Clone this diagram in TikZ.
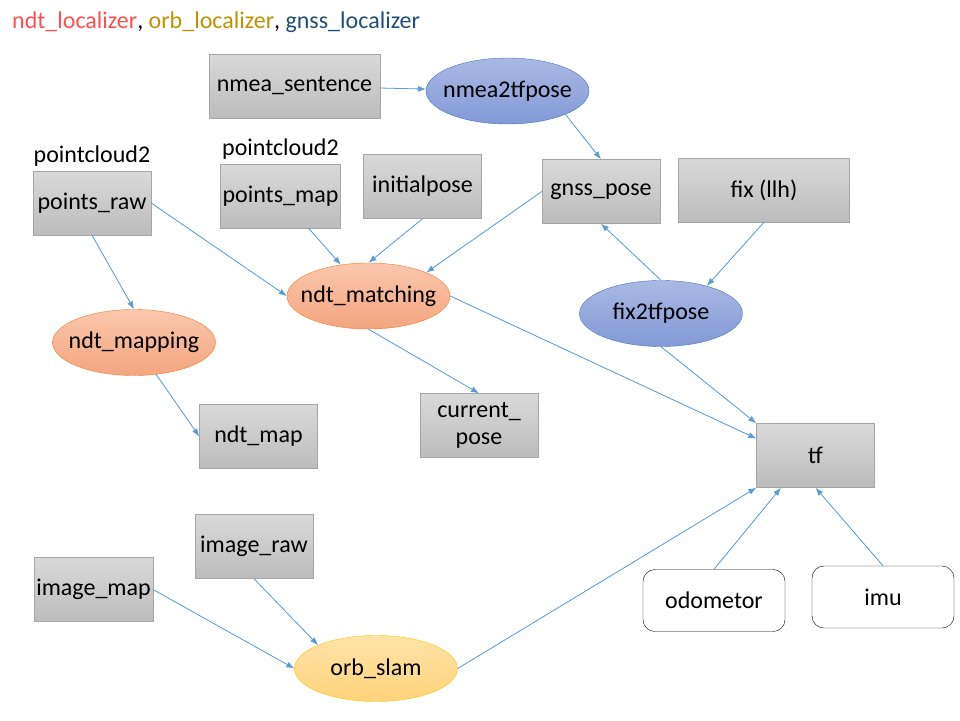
\documentclass[tikz,border=0pt]{standalone}
\usepackage{fontspec}
\setmainfont{Carlito}
\usepackage{tikz}
\usetikzlibrary{arrows.meta,positioning,shapes.geometric}
\definecolor{boxtop}{HTML}{D9D9D9}
\definecolor{boxbot}{HTML}{BCBCBC}
\definecolor{boxline}{HTML}{A5A5A5}
\definecolor{bluetop}{HTML}{A9B9E4}
\definecolor{bluebot}{HTML}{8299D6}
\definecolor{blueline}{HTML}{4472C4}
\definecolor{orgtop}{HTML}{F9C7AC}
\definecolor{orgbot}{HTML}{F4A57F}
\definecolor{orgline}{HTML}{ED7D31}
\definecolor{yeltop}{HTML}{FFE3A8}
\definecolor{yelbot}{HTML}{FFD37A}
\definecolor{yelline}{HTML}{FFC000}
\definecolor{arrowblue}{HTML}{5B9BD5}
\definecolor{ndtred}{HTML}{FF5050}
\definecolor{orbgold}{HTML}{C09000}
\definecolor{gnssblue}{HTML}{1F4E79}

\begin{document}
\begin{tikzpicture}[x=1pt, y=-1pt,
  font=\fontsize{24}{27}\selectfont,
  topic/.style={draw=boxline, top color=boxtop, bottom color=boxbot, minimum width=118pt, minimum height=64pt, inner sep=2pt, align=center},
  wide/.style={topic, minimum width=171pt},
  sensor/.style={draw=black, fill=white, rounded corners=12pt, minimum width=142pt, minimum height=62pt},
  proc/.style={ellipse, minimum width=163pt, minimum height=66pt, inner ysep=0pt, inner xsep=-12pt},
  gnss/.style={proc, draw=blueline, top color=bluetop, bottom color=bluebot},
  ndt/.style={proc, draw=orgline, top color=orgtop, bottom color=orgbot},
  orb/.style={proc, draw=yelline, top color=yeltop, bottom color=yelbot},
  arrow/.style={-{Latex[length=8pt,width=6pt]}, draw=arrowblue, fill=arrowblue, line width=0.8pt}
]
\useasboundingbox (0,0) rectangle (960,720);
\node[anchor=west, inner sep=0pt] (title) at (12,22)
  {\textcolor{ndtred}{ndt\_localizer}, \textcolor{orbgold}{orb\_localizer}, \textcolor{gnssblue}{gnss\_localizer}};

% topics
\node[wide] (nmea) at (294.5,86) {nmea\_sentence};
\node[topic] (praw) at (92,203) {points\_raw};
\node[above=1pt of praw] (pc1) {pointcloud2};
\node[topic] (pmap) at (280.5,196.5) {points\_map};
\node[above=1pt of pmap] (pc2) {pointcloud2};
\node[topic] (init) at (422.5,186.5) {initialpose};
\node[topic] (gpose) at (601,191.5) {gnss\_pose};
\node[wide] (fix) at (764,190) {fix (llh)};
\node[topic] (ndtmap) at (258.5,436.5) {ndt\_map};
\node[topic] (cpose) at (479,425.5) {current\_\\pose};
\node[topic] (tf) at (815.5,455.5) {tf};
\node[topic] (iraw) at (254,546.5) {image\_raw};
\node[topic] (imap) at (93.5,589.5) {image\_map};
\node[sensor] (odom) at (714,600.5) {odometor};
\node[sensor] (imu) at (883,597) {imu};

% processes
\node[gnss] (n2tf) at (507.5,91) {nmea2tfpose};
\node[gnss] (f2tf) at (661,313.5) {fix2tfpose};
\node[ndt] (match) at (368.5,296) {ndt\_matching};
\node[ndt] (mapping) at (134,342.5) {ndt\_mapping};
\node[orb] (slam) at (376,668.5) {orb\_slam};

% connections
\draw[arrow] (nmea) -- (n2tf);
\draw[arrow] (n2tf.-22) -- (gpose.north);
\draw[arrow] (praw.east) -- (match.west);
\draw[arrow] (pmap) -- (match);
\draw[arrow] (init.south) -- (match.north);
\draw[arrow] (gpose.west) -- (match.north east);
\draw[arrow] (praw.south) -- (mapping.north);
\draw[arrow] (mapping) -- (ndtmap.west);
\draw[arrow] (match.south) -- (cpose.north);
\draw[arrow] (match.east) -- (tf.164);
\draw[arrow] (f2tf.north) -- (gpose.south);
\draw[arrow] (fix.south) -- (f2tf.31);
\draw[arrow] (f2tf.south) -- (tf.north west);
\draw[arrow] (slam.east) -- (tf.south west);
\draw[arrow] (odom.north) -- (tf.-137);
\draw[arrow] (imu.north) -- (tf.south);
\draw[arrow] (imap.east) -- (slam.west);
\draw[arrow] (iraw.south) -- (slam.158);
\end{tikzpicture}
\end{document}
